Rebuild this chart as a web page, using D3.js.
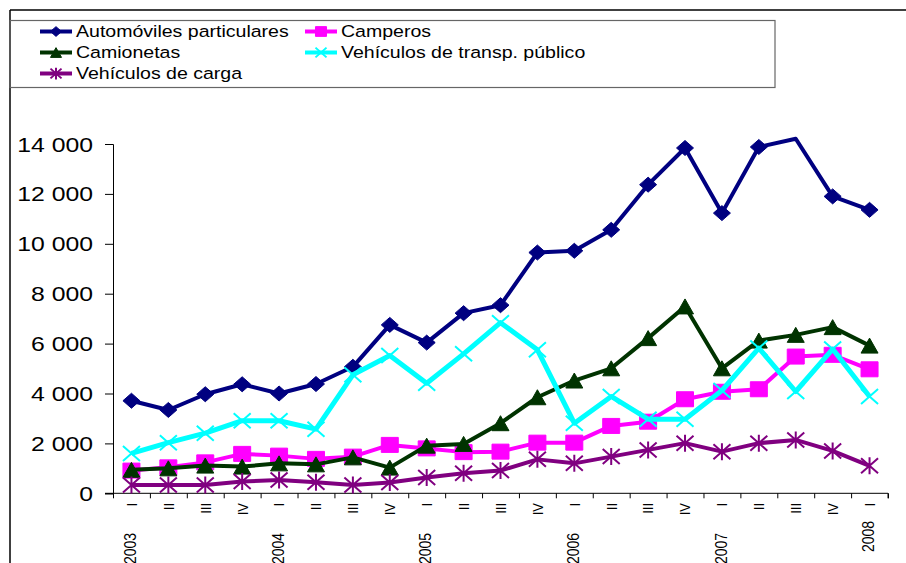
<!DOCTYPE html>
<html>
<head>
<meta charset="utf-8">
<script src="https://cdn.jsdelivr.net/npm/d3@7"></script>
<style>
  body { margin: 0; background: #fff; }
  text { font-family: "Liberation Sans", Arial, sans-serif; fill: #000; }
</style>
</head>
<body>
<div id="chart"></div>
<script>
// Vehicle sales by quarter, 2003 I - 2008 I

// Categories
var quarters = ["I","II","III","IV","I","II","III","IV","I","II","III","IV",
  "I","II","III","IV","I","II","III","IV","I"];
var years = ["2003","2004","2005","2006","2007","2008"];
var yearIndex = [0, 4, 8, 12, 16, 20];

// Series values
var automoviles = [3710, 3340, 3970, 4370, 4000, 4380, 5070, 6750, 6040, 7220, 7540,
  9650, 9720, 10560, 12370, 13840, 11230, 13880, 14210, 11900, 11360];
var camperos = [910, 1040, 1240, 1580, 1510, 1380, 1470, 1940, 1800, 1650, 1670,
  2030, 2030, 2700, 2870, 3770, 4070, 4170, 5480, 5550, 4970];
var camionetas = [940, 1000, 1110, 1070, 1200, 1160, 1440, 1030, 1910, 1980, 2810,
  3850, 4520, 5010, 6220, 7490, 5010, 6120, 6350, 6660, 5920];
var transpPublico = [1600, 2030, 2410, 2910, 2910, 2570, 4750, 5520, 4410, 5590, 6840,
  5750, 2810, 3880, 2970, 2970, 4120, 5820, 4080, 5780, 3880];
var carga = [330, 330, 330, 470, 530, 440, 330, 430, 630, 800, 910,
  1360, 1200, 1470, 1740, 2010, 1670, 2010, 2140, 1700, 1100];

var yTicks = [0, 2000, 4000, 6000, 8000, 10000, 12000, 14000];

var series = [
  { name: "Automóviles particulares", values: automoviles, color: "#000080", marker: "diamond", width: 4 },
  { name: "Camperos", values: camperos, color: "#ff00ff", marker: "square", width: 4 },
  { name: "Camionetas", values: camionetas, color: "#003300", marker: "triangle", width: 4 },
  { name: "Vehículos de transp. público", values: transpPublico, color: "#00ffff", marker: "cross", width: 5 },
  { name: "Vehículos de carga", values: carga, color: "#800080", marker: "star", width: 4 }
];

// 1. SVG area
var svgWidth = 906;
var svgHeight = 563;
var stretch = 1.18; // the original is drawn a bit wide

var svg = d3.select("#chart").append("svg")
  .attr("width", svgWidth)
  .attr("height", svgHeight);

// frame lines
svg.append("line").attr("x1", 10).attr("x2", 906).attr("y1", 10).attr("y2", 10)
  .attr("stroke", "#000").attr("stroke-width", 1.5);
svg.append("line").attr("x1", 10).attr("x2", 10).attr("y1", 10).attr("y2", 563)
  .attr("stroke", "#000").attr("stroke-width", 1.5);

// 2. Scales
var plotLeft = 113, plotRight = 888, plotTop = 144, plotBottom = 493.3;

var x = d3.scaleBand()
  .domain(d3.range(quarters.length))
  .range([plotLeft, plotRight]);
var xc = function (i) { return x(i) + x.bandwidth() / 2; };

var y = d3.scaleLinear()
  .domain([0, 14000])
  .range([plotBottom, plotTop]);

var fmt = d3.formatLocale({ decimal: ",", thousands: " ", grouping: [3], currency: ["", ""] }).format(",");

// 3. Axes
var yAxis = svg.append("g")
  .attr("transform", `translate(${plotLeft},0)`)
  .call(d3.axisLeft(y).tickValues(yTicks).tickSize(8).tickFormat(""));

yAxis.selectAll("text").remove();
yAxis.select(".domain").attr("stroke", "#000");

svg.append("g").selectAll("text")
  .data(yTicks)
  .enter()
  .append("text")
  .attr("transform", d => `translate(93,${y(d)}) scale(${stretch},1)`)
  .attr("text-anchor", "end")
  .attr("dy", "0.36em")
  .attr("font-size", "21px")
  .text(d => fmt(d));

// x axis: ticks on category boundaries
var xEdge = d3.scaleLinear().domain([0, quarters.length]).range([plotLeft, plotRight]);
var xAxis = svg.append("g")
  .attr("transform", `translate(0,${plotBottom})`)
  .call(d3.axisBottom(xEdge).tickValues(d3.range(quarters.length + 1)).tickSize(5).tickFormat("").tickSizeOuter(5));
xAxis.select(".domain").attr("d", `M105,0H${plotRight}V5`);

svg.append("g").selectAll("text")
  .data(quarters)
  .enter()
  .append("text")
  .attr("transform", (d, i) => `translate(${xc(i)},503) scale(${stretch},1) rotate(-90)`)
  .attr("text-anchor", "end")
  .attr("dy", "0.35em")
  .attr("font-size", "13px")
  .text(d => d);

svg.append("g").selectAll("text")
  .data(years)
  .enter()
  .append("text")
  .attr("transform", (d, i) => `translate(${xc(yearIndex[i]) - 1},${i === years.length - 1 ? 521 : 533}) scale(${stretch},1) rotate(-90)`)
  .attr("text-anchor", "end")
  .attr("dy", "0.35em")
  .attr("font-size", "14px")
  .text(d => d);

// 4. Markers
function markerPath(type, s) {
  var w = 8.5 * s, h = 7.5 * s;
  if (type === "diamond") return `M0,${-h}L${w},0L0,${h}L${-w},0Z`;
  if (type === "square") return `M${-w},${-h}H${w}V${h}H${-w}Z`;
  if (type === "triangle") return `M0,${-h}L${w},${h}H${-w}Z`;
  if (type === "cross") return `M${-w},${-h}L${w},${h}M${-w},${h}L${w},${-h}`;
  return `M${-w},${-h}L${w},${h}M${-w},${h}L${w},${-h}M0,${-h - 1}V${h + 1}`;
}
function isOpen(type) { return type === "cross" || type === "star"; }

var line = d3.line()
  .x((d, i) => xc(i))
  .y(d => y(d));

series.forEach(function (s) {
  var g = svg.append("g");
  g.append("path")
    .datum(s.values)
    .attr("fill", "none")
    .attr("stroke", s.color)
    .attr("stroke-width", s.width)
    .attr("stroke-linejoin", "round")
    .attr("d", line);

  // markers above the axis max are clipped in the original
  g.selectAll("path.marker")
    .data(s.values.map((v, i) => ({ v: v, i: i })).filter(d => d.v <= 14000))
    .enter()
    .append("path")
    .classed("marker", true)
    .attr("transform", d => `translate(${xc(d.i)},${y(d.v)})`)
    .attr("d", markerPath(s.marker, 1))
    .attr("fill", isOpen(s.marker) ? "none" : s.color)
    .attr("stroke", s.color)
    .attr("stroke-width", isOpen(s.marker) ? 2 : 1);
});

// 5. Legend
var legend = svg.append("g");
legend.append("rect")
  .attr("x", 10).attr("y", 20.5)
  .attr("width", 765).attr("height", 67)
  .attr("fill", "none")
  .attr("stroke", "#666")
  .attr("stroke-width", 1.2);

var legendPos = [[40, 31.5], [305, 31.5], [40, 52.5], [305, 52.5], [40, 73.5]];

series.forEach(function (s, i) {
  var lx = legendPos[i][0], ly = legendPos[i][1];
  legend.append("line")
    .attr("x1", lx).attr("x2", lx + 32)
    .attr("y1", ly).attr("y2", ly)
    .attr("stroke", s.color)
    .attr("stroke-width", 4);
  legend.append("path")
    .attr("transform", `translate(${lx + 16},${ly})`)
    .attr("d", markerPath(s.marker, 0.65))
    .attr("fill", isOpen(s.marker) ? "none" : s.color)
    .attr("stroke", s.color)
    .attr("stroke-width", isOpen(s.marker) ? 2 : 1);
  legend.append("text")
    .attr("transform", `translate(${lx + 36},${ly}) scale(1.15,1)`)
    .attr("dy", "0.35em")
    .attr("font-size", "17px")
    .text(s.name);
});
</script>
</body>
</html>
